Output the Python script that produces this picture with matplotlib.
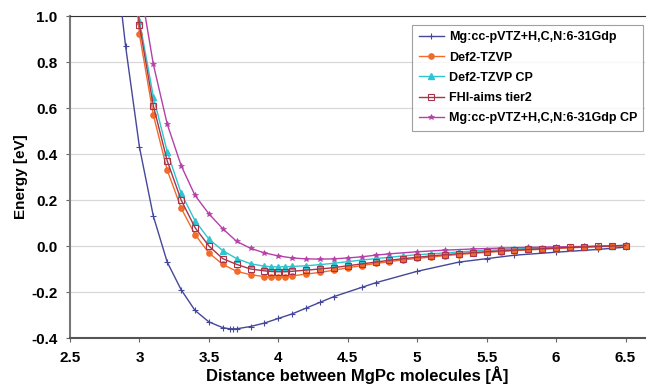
import matplotlib
matplotlib.use("Agg")
import matplotlib.pyplot as plt

plt.rcParams['font.family'] = ['Liberation Sans Narrow', 'Liberation Sans', 'DejaVu Sans']
plt.rcParams['font.weight'] = 'bold'

# Mg:cc-pVTZ+H,C,N:6-31Gdp
x_mg = [2.8, 2.9, 3.0, 3.1, 3.2, 3.3, 3.4, 3.5, 3.6, 3.65, 3.675, 3.7, 3.8, 3.9, 4.0,
        4.1, 4.2, 4.3, 4.4, 4.6, 4.7, 5.0, 5.3, 5.5, 5.7, 6.0, 6.3, 6.5]
e_mg = [1.40, 0.87, 0.43, 0.13, -0.07, -0.19, -0.28, -0.33, -0.355, -0.36, -0.36, -0.36,
        -0.35, -0.335, -0.315, -0.295, -0.27, -0.245, -0.22, -0.18, -0.16, -0.11, -0.07,
        -0.055, -0.04, -0.027, -0.015, -0.005]

x_grid = [2.9, 3.0, 3.1, 3.2, 3.3, 3.4, 3.5, 3.6, 3.7, 3.8, 3.9, 3.95, 4.0, 4.05, 4.1,
          4.2, 4.3, 4.4, 4.5, 4.6, 4.7, 4.8, 4.9, 5.0, 5.1, 5.2, 5.3, 5.4, 5.5, 5.6,
          5.7, 5.8, 5.9, 6.0, 6.1, 6.2, 6.3, 6.4, 6.5]

# Def2-TZVP
e_def2 = [1.60, 0.92, 0.57, 0.33, 0.165, 0.05, -0.03, -0.08, -0.11, -0.125, -0.133,
          -0.135, -0.135, -0.134, -0.13, -0.122, -0.115, -0.105, -0.095, -0.085, -0.076,
          -0.068, -0.06, -0.054, -0.048, -0.042, -0.037, -0.032, -0.028, -0.024, -0.02,
          -0.017, -0.014, -0.011, -0.008, -0.005, -0.003, -0.001, 0.002]

# Def2-TZVP CP
e_def2cp = [1.70, 0.98, 0.65, 0.41, 0.23, 0.11, 0.03, -0.02, -0.055, -0.077, -0.088,
            -0.09, -0.091, -0.09, -0.089, -0.086, -0.081, -0.075, -0.068, -0.061, -0.055,
            -0.049, -0.043, -0.038, -0.034, -0.03, -0.026, -0.022, -0.019, -0.016, -0.013,
            -0.011, -0.009, -0.007, -0.005, -0.003, -0.001, 0.001, 0.003]

# FHI-aims tier2
e_fhi = [1.65, 0.96, 0.61, 0.37, 0.20, 0.08, 0.0, -0.055, -0.08, -0.1, -0.108,
         -0.111, -0.112, -0.112, -0.11, -0.105, -0.1, -0.094, -0.086, -0.078, -0.07,
         -0.062, -0.055, -0.049, -0.043, -0.038, -0.033, -0.029, -0.025, -0.021, -0.018,
         -0.015, -0.012, -0.009, -0.006, -0.004, -0.002, 0.0, 0.002]

# Mg:cc-pVTZ+H,C,N:6-31Gdp CP
x_mgcp = [3.0, 3.1, 3.2, 3.3, 3.4, 3.5, 3.6, 3.7, 3.8, 3.9, 4.0, 4.1, 4.2, 4.3, 4.4,
          4.5, 4.6, 4.7, 4.8, 5.0, 5.2, 5.4, 5.6, 5.8, 6.0, 6.2, 6.4, 6.5]
e_mgcp = [1.15, 0.79, 0.53, 0.35, 0.22, 0.14, 0.075, 0.02, -0.01, -0.03, -0.043,
          -0.052, -0.056, -0.057, -0.056, -0.052, -0.047, -0.04, -0.034, -0.025, -0.018,
          -0.013, -0.009, -0.006, -0.004, -0.002, 0.0, 0.003]

x_ticks = [2.5, 3, 3.5, 4, 4.5, 5, 5.5, 6, 6.5]
x_ticklabels = ['2.5', '3', '3.5', '4', '4.5', '5', '5.5', '6', '6.5']
y_ticks = [-0.4, -0.2, 0.0, 0.2, 0.4, 0.6, 0.8, 1.0]
y_ticklabels = ['-0.4', '-0.2', '0.0', '0.2', '0.4', '0.6', '0.8', '1.0']

fig = plt.figure(figsize=(6.48, 3.91), dpi=100)
ax = fig.add_axes([70/648, 1-338/391, 575/648, 322/391])

ax.plot(x_mg, e_mg, color='#45479A', lw=1.0, marker='+', ms=5, mew=0.8,
        label='Mg:cc-pVTZ+H,C,N:6-31Gdp', zorder=3)
ax.plot(x_grid, e_def2, color='#F26B2A', lw=1.0, marker='o', ms=3.8,
        label='Def2-TZVP', zorder=4)
ax.plot(x_grid, e_def2cp, color='#2EC4D0', lw=1.0, marker='^', ms=3.8,
        label='Def2-TZVP CP', zorder=3)
ax.plot(x_grid, e_fhi, color='#A8344A', lw=1.0, marker='s', ms=3.8, mfc='none', mew=0.8,
        label='FHI-aims tier2', zorder=5)
ax.plot(x_mgcp, e_mgcp, color='#B63FA8', lw=1.0, marker='*', ms=4, mew=0.5,
        label='Mg:cc-pVTZ+H,C,N:6-31Gdp CP', zorder=3)

ax.set_xlim(2.5, 6.64)
ax.set_ylim(-0.4, 1.0)
ax.set_xticks(x_ticks)
ax.set_xticklabels(x_ticklabels)
ax.set_yticks(y_ticks)
ax.set_yticklabels(y_ticklabels)
ax.tick_params(axis='both', labelsize=11, direction='out', length=3, color='#666666', pad=6)
ax.yaxis.grid(True, color='#D8D8D8', lw=0.9)
ax.set_axisbelow(True)
ax.spines['right'].set_visible(False)
ax.spines['top'].set_color('#333333')
ax.spines['left'].set_color('#777777')
ax.spines['bottom'].set_color('#555555')
ax.spines['left'].set_linewidth(1.5)
ax.spines['bottom'].set_linewidth(1.5)

ax.set_xlabel('Distance between MgPc molecules [Å]', fontsize=12, fontweight='bold', labelpad=1)
ax.set_ylabel('Energy [eV]', fontsize=11, fontweight='bold', labelpad=2)

leg = ax.legend(loc='upper right', bbox_to_anchor=(0.997, 0.972), borderaxespad=0,
                fontsize=9, frameon=True, fancybox=False, edgecolor='#888888',
                handlelength=2.0, borderpad=0.5, labelspacing=0.66, handletextpad=0.4)
leg.get_frame().set_linewidth(0.8)
for t in leg.get_texts():
    t.set_fontweight('bold')

fig.savefig('out.png', dpi=100)
